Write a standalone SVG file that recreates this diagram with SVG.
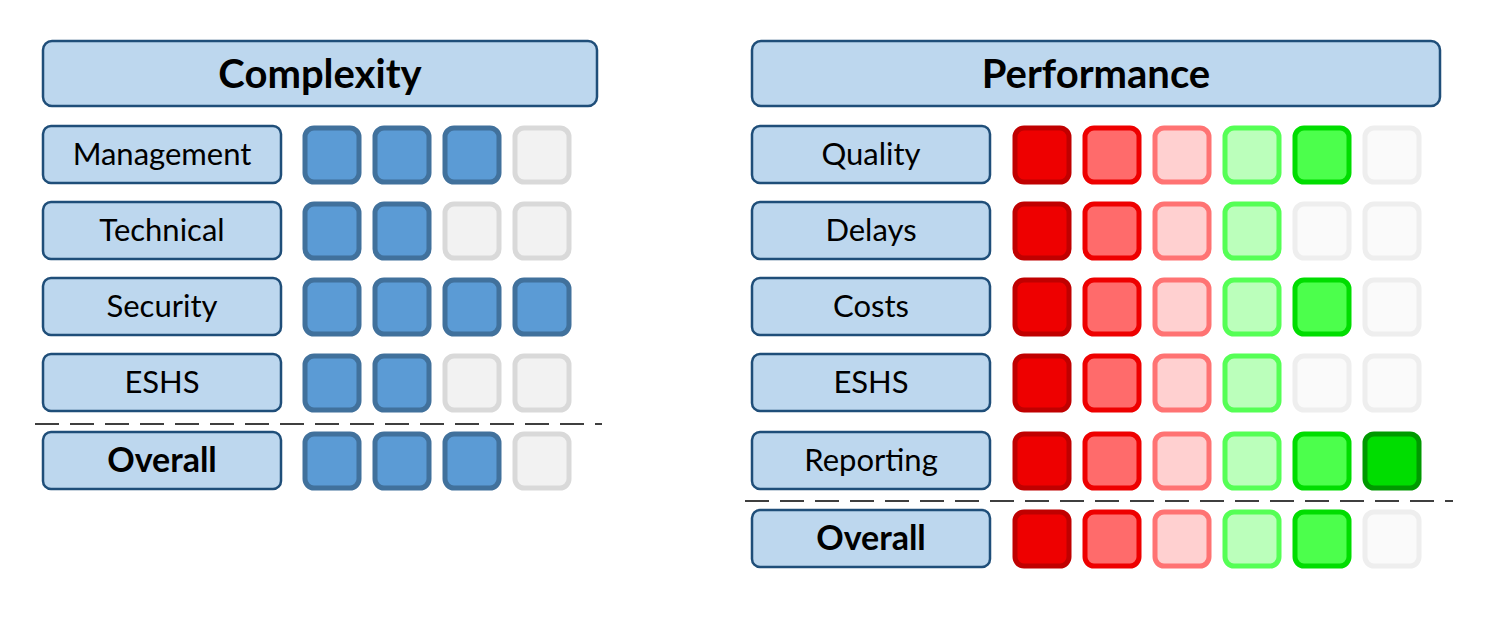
<svg xmlns="http://www.w3.org/2000/svg" width="1508" height="620" viewBox="0 0 1508 620">
<style>
.lb{fill:#bdd7ee;stroke:#1f4e79;stroke-width:2.5}
text{font-family:Lato,"Liberation Sans",sans-serif;fill:#000;text-anchor:middle}
.t{font-size:40px;font-weight:bold}
.l{font-size:31px}
.b{font-size:34px;font-weight:bold}
rect.s{stroke-width:5}
.bl{fill:#5b9bd5;stroke:#41719c}
.gy{fill:#f2f2f2;stroke:#d9d9d9}
.r1{fill:#ee0000;stroke:#c00000}
.r2{fill:#ff6b6b;stroke:#ee0000}
.r3{fill:#ffd0d0;stroke:#ff7373}
.g3{fill:#bbffbb;stroke:#55ff55}
.g2{fill:#4cff4c;stroke:#00dd00}
.g1{fill:#00dd00;stroke:#009900}
.e{fill:#fafafa;stroke:#eeeeee}
.d{stroke:#000;stroke-width:1.5;stroke-dasharray:24,11}
</style>
<defs>
<rect id="sq" width="54" height="54" rx="9"/>
</defs>
<g id="complexity">
<rect class="lb" x="43" y="41" width="554" height="65" rx="9"/><text class="t" x="320" y="88">Complexity</text>
<g id="c-management"><rect class="lb" x="43" y="126" width="238" height="57" rx="8"/><text class="l" x="162" y="165">Management</text>
<rect class="s bl" x="305" y="128" width="54" height="54" rx="9"/><rect class="s bl" x="375" y="128" width="54" height="54" rx="9"/><rect class="s bl" x="445" y="128" width="54" height="54" rx="9"/><rect class="s gy" x="515" y="128" width="54" height="54" rx="9"/></g>
<g id="c-technical"><rect class="lb" x="43" y="202" width="238" height="57" rx="8"/><text class="l" x="162" y="241">Technical</text>
<rect class="s bl" x="305" y="204" width="54" height="54" rx="9"/><rect class="s bl" x="375" y="204" width="54" height="54" rx="9"/><rect class="s gy" x="445" y="204" width="54" height="54" rx="9"/><rect class="s gy" x="515" y="204" width="54" height="54" rx="9"/></g>
<g id="c-security"><rect class="lb" x="43" y="278" width="238" height="57" rx="8"/><text class="l" x="162" y="317">Security</text>
<rect class="s bl" x="305" y="280" width="54" height="54" rx="9"/><rect class="s bl" x="375" y="280" width="54" height="54" rx="9"/><rect class="s bl" x="445" y="280" width="54" height="54" rx="9"/><rect class="s bl" x="515" y="280" width="54" height="54" rx="9"/></g>
<g id="c-eshs"><rect class="lb" x="43" y="354" width="238" height="57" rx="8"/><text class="l" x="162" y="393">ESHS</text>
<rect class="s bl" x="305" y="356" width="54" height="54" rx="9"/><rect class="s bl" x="375" y="356" width="54" height="54" rx="9"/><rect class="s gy" x="445" y="356" width="54" height="54" rx="9"/><rect class="s gy" x="515" y="356" width="54" height="54" rx="9"/></g>
<line class="d" x1="35" y1="424" x2="602" y2="424"/>
<g id="c-overall"><rect class="lb" x="43" y="432" width="238" height="57" rx="8"/><text class="b" x="162" y="472">Overall</text>
<rect class="s bl" x="305" y="434" width="54" height="54" rx="9"/><rect class="s bl" x="375" y="434" width="54" height="54" rx="9"/><rect class="s bl" x="445" y="434" width="54" height="54" rx="9"/><rect class="s gy" x="515" y="434" width="54" height="54" rx="9"/></g>
</g>
<g id="performance">
<rect class="lb" x="752" y="41" width="688" height="65" rx="9"/><text class="t" x="1096" y="88">Performance</text>
<g id="p-quality"><rect class="lb" x="752" y="126" width="238" height="57" rx="8"/><text class="l" x="871" y="165">Quality</text>
<rect class="s r1" x="1015" y="128" width="54" height="54" rx="9"/><rect class="s r2" x="1085" y="128" width="54" height="54" rx="9"/><rect class="s r3" x="1155" y="128" width="54" height="54" rx="9"/><rect class="s g3" x="1225" y="128" width="54" height="54" rx="9"/><rect class="s g2" x="1295" y="128" width="54" height="54" rx="9"/><rect class="s e" x="1365" y="128" width="54" height="54" rx="9"/></g>
<g id="p-delays"><rect class="lb" x="752" y="202" width="238" height="57" rx="8"/><text class="l" x="871" y="241">Delays</text>
<rect class="s r1" x="1015" y="204" width="54" height="54" rx="9"/><rect class="s r2" x="1085" y="204" width="54" height="54" rx="9"/><rect class="s r3" x="1155" y="204" width="54" height="54" rx="9"/><rect class="s g3" x="1225" y="204" width="54" height="54" rx="9"/><rect class="s e" x="1295" y="204" width="54" height="54" rx="9"/><rect class="s e" x="1365" y="204" width="54" height="54" rx="9"/></g>
<g id="p-costs"><rect class="lb" x="752" y="278" width="238" height="57" rx="8"/><text class="l" x="871" y="317">Costs</text>
<rect class="s r1" x="1015" y="280" width="54" height="54" rx="9"/><rect class="s r2" x="1085" y="280" width="54" height="54" rx="9"/><rect class="s r3" x="1155" y="280" width="54" height="54" rx="9"/><rect class="s g3" x="1225" y="280" width="54" height="54" rx="9"/><rect class="s g2" x="1295" y="280" width="54" height="54" rx="9"/><rect class="s e" x="1365" y="280" width="54" height="54" rx="9"/></g>
<g id="p-eshs"><rect class="lb" x="752" y="354" width="238" height="57" rx="8"/><text class="l" x="871" y="393">ESHS</text>
<rect class="s r1" x="1015" y="356" width="54" height="54" rx="9"/><rect class="s r2" x="1085" y="356" width="54" height="54" rx="9"/><rect class="s r3" x="1155" y="356" width="54" height="54" rx="9"/><rect class="s g3" x="1225" y="356" width="54" height="54" rx="9"/><rect class="s e" x="1295" y="356" width="54" height="54" rx="9"/><rect class="s e" x="1365" y="356" width="54" height="54" rx="9"/></g>
<g id="p-reporting"><rect class="lb" x="752" y="432" width="238" height="57" rx="8"/><text class="l" x="871" y="471">Reporting</text>
<rect class="s r1" x="1015" y="434" width="54" height="54" rx="9"/><rect class="s r2" x="1085" y="434" width="54" height="54" rx="9"/><rect class="s r3" x="1155" y="434" width="54" height="54" rx="9"/><rect class="s g3" x="1225" y="434" width="54" height="54" rx="9"/><rect class="s g2" x="1295" y="434" width="54" height="54" rx="9"/><rect class="s g1" x="1365" y="434" width="54" height="54" rx="9"/></g>
<line class="d" x1="745" y1="501" x2="1453" y2="501"/>
<g id="p-overall"><rect class="lb" x="752" y="510" width="238" height="57" rx="8"/><text class="b" x="871" y="550">Overall</text>
<rect class="s r1" x="1015" y="512" width="54" height="54" rx="9"/><rect class="s r2" x="1085" y="512" width="54" height="54" rx="9"/><rect class="s r3" x="1155" y="512" width="54" height="54" rx="9"/><rect class="s g3" x="1225" y="512" width="54" height="54" rx="9"/><rect class="s g2" x="1295" y="512" width="54" height="54" rx="9"/><rect class="s e" x="1365" y="512" width="54" height="54" rx="9"/></g>
</g>
</svg>
